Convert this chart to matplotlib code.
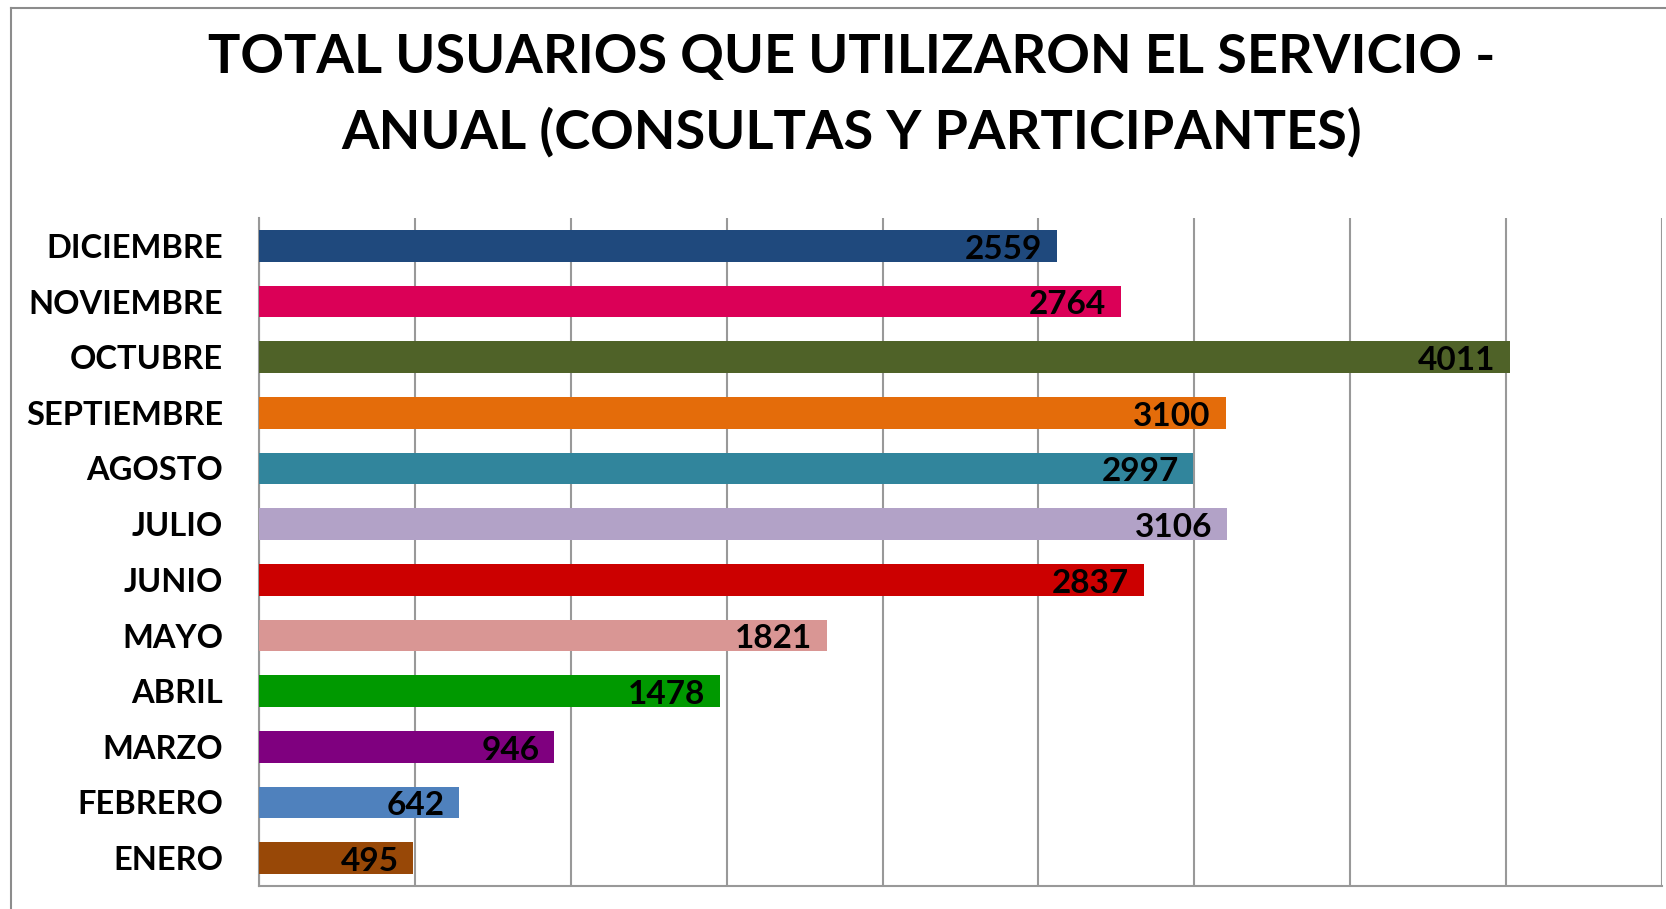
import matplotlib.pyplot as plt
from matplotlib.lines import Line2D

# Data (bottom to top as drawn)
meses = ['ENERO', 'FEBRERO', 'MARZO', 'ABRIL', 'MAYO', 'JUNIO',
         'JULIO', 'AGOSTO', 'SEPTIEMBRE', 'OCTUBRE', 'NOVIEMBRE', 'DICIEMBRE']
usuarios = [495, 642, 946, 1478, 1821, 2837, 3106, 2997, 3100, 4011, 2764, 2559]
colores = ['#984807', '#4F81BD', '#7F007F', '#009900', '#D99694', '#CC0000',
           '#B2A2C7', '#31859C', '#E46C0A', '#4F6228', '#DB0057', '#1F497D']

titulo = 'TOTAL USUARIOS QUE UTILIZARON EL SERVICIO -\nANUAL (CONSULTAS Y PARTICIPANTES)'

plt.rcParams['font.family'] = ['Lato', 'DejaVu Sans']

W, H = 1666, 909
fig = plt.figure(figsize=(W / 100, H / 100), dpi=100)
ax = fig.add_axes([259 / W, 1 - 886 / H, (1662 - 259) / W, (886 - 218) / H])

y = range(len(meses))
bars = ax.barh(y, usuarios, height=0.57, color=colores, zorder=3)

for b, v in zip(bars, usuarios):
    ax.annotate(str(v), xy=(b.get_width(), b.get_y() + b.get_height() / 2),
                xytext=(-10.5, -2.5), textcoords='offset points',
                ha='right', va='center', fontsize=24, fontweight='bold',
                color='black', zorder=4)

ax.set_xlim(0, 4500)
ax.set_ylim(-0.5, len(meses) - 0.5)
ax.set_xticks(range(0, 4501, 500))
ax.set_xticklabels([])
ax.set_yticks(list(y))
ax.set_yticklabels(meses, fontsize=23.5, fontweight='bold')
ax.tick_params(axis='x', length=0)
ax.tick_params(axis='y', length=0, pad=26)
ax.grid(axis='x', color='#999999', linewidth=1.5, zorder=0)
for s in ['top', 'right']:
    ax.spines[s].set_visible(False)
for s in ['left', 'bottom']:
    ax.spines[s].set_color('#999999')
    ax.spines[s].set_linewidth(1.5)

fig.text(852 / W, 1 - 95 / H, titulo, ha='center', va='center',
         fontsize=39, fontweight='bold', linespacing=1.6)

# outer chart border (top and left edges visible)
fig.add_artist(Line2D([11 / W, 11 / W], [1 - 8 / H, 0], transform=fig.transFigure,
                      color='#8c8c8c', linewidth=1.5))
fig.add_artist(Line2D([11 / W, 1], [1 - 8 / H, 1 - 8 / H], transform=fig.transFigure,
                      color='#8c8c8c', linewidth=1.5))

fig.savefig('out.png', dpi=100, facecolor='white')
